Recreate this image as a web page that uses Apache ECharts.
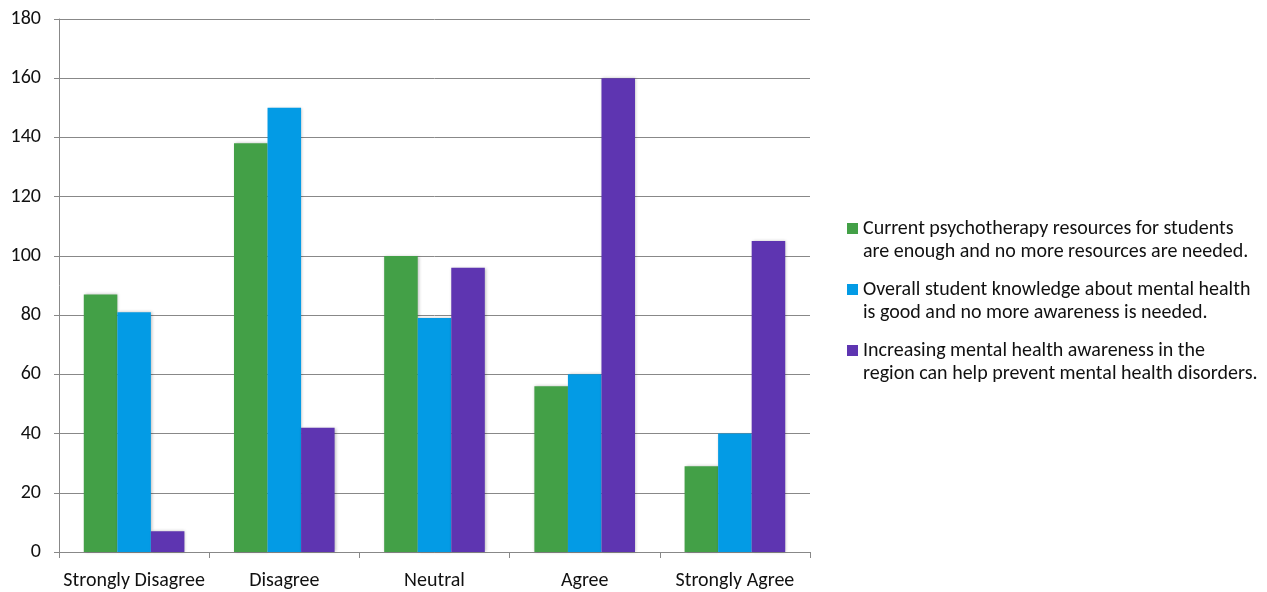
<!DOCTYPE html>
<html>
<head>
<meta charset="utf-8">
<script src="https://cdn.jsdelivr.net/npm/echarts@6/dist/echarts.min.js"></script>
<style>
  html, body { margin: 0; padding: 0; background: #fff; }
  #chart { width: 1267px; height: 592px; }
</style>
</head>
<body>
<div id="chart"></div>
<script>
// Survey responses per agreement level
const categories = ['Strongly Disagree', 'Disagree', 'Neutral', 'Agree', 'Strongly Agree'];

const seriesNames = [
  'Current psychotherapy resources for students\nare enough and no more resources are needed.',
  'Overall student knowledge about mental health\nis good and no more awareness is needed.',
  'Increasing mental health awareness in the\nregion can help prevent mental health disorders.'
];

const resourcesEnough = [87, 138, 100, 56, 29];
const knowledgeGood = [81, 150, 79, 60, 40];
const awarenessHelps = [7, 42, 96, 160, 105];

const yTicks = { min: 0, max: 180, interval: 20 };

const colors = ['#43A047', '#039BE5', '#5E35B1'];
const font = 'Carlito, Lato, "Open Sans", "Liberation Sans", sans-serif';

// Legend swatch sits beside the first line of a two-line label:
// an 11x11 square at the top of a 11x34 box (the far corner is a zero-area stub).
const legendIcon = 'path://M0,0L11,0L11,11L0,11Z M0,34L0.01,34L0,34Z';

const chart = echarts.init(document.getElementById('chart'));

const makeSeries = (name, data, color) => ({
  name: name,
  type: 'bar',
  data: data,
  barGap: '0%',
  barCategoryGap: '33%',
  itemStyle: {
    color: color,
    shadowColor: 'rgba(0,0,0,0.25)',
    shadowBlur: 3,
    shadowOffsetX: 1,
    shadowOffsetY: 0
  }
});

chart.setOption({
  animation: false,
  color: colors,
  grid: { left: 59, top: 19, width: 751, height: 533, containLabel: false },
  legend: {
    orient: 'vertical',
    left: 842,
    top: 212,
    itemWidth: 11,
    itemHeight: 34,
    itemGap: 15,
    icon: legendIcon,
    textStyle: {
      fontFamily: font,
      fontSize: 20,
      color: '#111',
      lineHeight: 23
    },
    data: seriesNames
  },
  xAxis: {
    type: 'category',
    data: categories,
    axisLine: { lineStyle: { color: '#888', width: 1 } },
    axisTick: { show: true, length: 6, lineStyle: { color: '#888' } },
    axisLabel: { fontFamily: font, fontSize: 20, color: '#111', margin: 19, interval: 0 }
  },
  yAxis: {
    type: 'value',
    min: yTicks.min,
    max: yTicks.max,
    interval: yTicks.interval,
    axisLine: { show: true, lineStyle: { color: '#888', width: 1 } },
    axisTick: { show: true, length: 5, lineStyle: { color: '#888' } },
    splitLine: { lineStyle: { color: '#888', width: 1 } },
    axisLabel: { fontFamily: font, fontSize: 20, color: '#111', margin: 18 }
  },
  series: [
    makeSeries(seriesNames[0], resourcesEnough, colors[0]),
    makeSeries(seriesNames[1], knowledgeGood, colors[1]),
    makeSeries(seriesNames[2], awarenessHelps, colors[2])
  ]
});
</script>
</body>
</html>
